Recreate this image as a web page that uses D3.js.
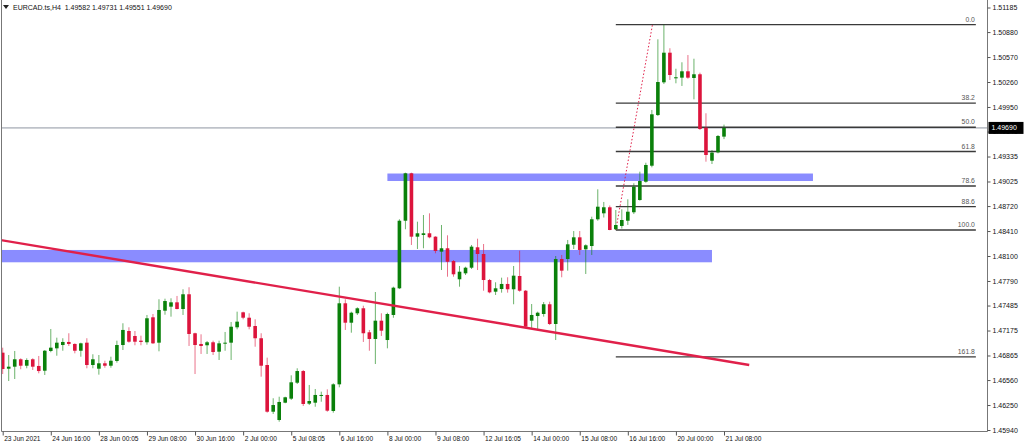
<!DOCTYPE html>
<html><head><meta charset="utf-8">
<script src="https://cdn.jsdelivr.net/npm/d3@7"></script>
<style>
html,body{margin:0;padding:0;background:#fff;}
svg{display:block;}
text{font-family:"Liberation Sans",Arial,sans-serif;}
</style></head><body>
<svg id="chart" width="1024" height="447"></svg>
<script>
const symbolName = "EURCAD.ts,H4";
const lastQuote = [1.49582, 1.49731, 1.49551, 1.49690];
const currentPrice = 1.49690;

const opens = [1.46900,1.46701,1.46726,1.46818,1.46738,1.46818,1.46735,1.46676,1.46921,1.46954,
1.46995,1.47033,1.47008,1.46924,1.47024,1.46747,1.46701,1.46768,1.46738,1.46797,
1.46995,1.47169,1.47107,1.47049,1.47029,1.47339,1.47024,1.47421,1.47471,1.47525,
1.47442,1.47625,1.47141,1.47008,1.46992,1.47029,1.46912,1.47016,1.47024,1.47215,
1.47401,1.47334,1.47231,1.47079,1.46747,1.46167,1.46064,1.46279,1.46329,1.46527,
1.46672,1.46267,1.46279,1.46366,1.46375,1.46176,1.46507,1.47513,1.47272,1.47389,
1.47451,1.47153,1.47070,1.47297,1.47057,1.47368,1.47699,1.48538,1.49127,1.48340,
1.48361,1.48382,1.48340,1.48154,1.48196,1.48038,1.47811,1.47885,1.47955,1.48208,
1.48125,1.47802,1.47657,1.47690,1.47753,1.47687,1.47852,1.47669,1.47297,1.47355,
1.47380,1.47501,1.47256,1.48063,1.48063,1.48240,1.48332,1.48183,1.48224,1.48556,
1.48630,1.48705,1.48432,1.48473,1.48538,1.48643,1.48795,1.49022,1.49221,1.49850,
1.50256,1.50624,1.50306,1.50314,1.50393,1.50310,1.50356,1.49693,1.49283,1.49387,
1.49582];
const highs = [1.46962,1.46871,1.46921,1.46830,1.46830,1.46830,1.46859,1.46933,1.47194,1.47086,
1.47079,1.47141,1.47016,1.47024,1.47079,1.46880,1.46871,1.46800,1.46850,1.47049,
1.47265,1.47215,1.47169,1.47111,1.47368,1.47380,1.47563,1.47570,1.47575,1.47604,
1.47687,1.47712,1.47148,1.47128,1.47045,1.47049,1.47049,1.47157,1.47281,1.47409,
1.47409,1.47389,1.47314,1.47141,1.46838,1.46334,1.46353,1.46353,1.46619,1.46706,
1.46685,1.46499,1.46449,1.46416,1.46445,1.46520,1.47719,1.47563,1.47409,1.47463,
1.47483,1.47182,1.47653,1.47389,1.47396,1.47719,1.48556,1.49134,1.49134,1.48526,
1.48609,1.48630,1.48345,1.48485,1.48357,1.48050,1.47976,1.47967,1.48237,1.48315,
1.48249,1.47815,1.47774,1.47831,1.47836,1.47976,1.48166,1.47678,1.47504,1.47409,
1.47529,1.47533,1.48100,1.48113,1.48299,1.48410,1.48410,1.48245,1.48588,1.48928,
1.48771,1.48727,1.48671,1.48680,1.48804,1.49003,1.49147,1.49258,1.49913,1.50790,
1.50972,1.50679,1.50425,1.50505,1.50595,1.50549,1.50376,1.49872,1.49416,1.49602,
1.49731];
const lows = [1.46635,1.46548,1.46573,1.46694,1.46706,1.46685,1.46644,1.46623,1.46905,1.46862,
1.46924,1.46983,1.46892,1.46850,1.46706,1.46706,1.46627,1.46713,1.46713,1.46776,
1.46933,1.47024,1.46992,1.46992,1.46999,1.47008,1.46917,1.47371,1.47347,1.47438,
1.47368,1.46983,1.46635,1.46884,1.46884,1.46871,1.46809,1.46924,1.46809,1.47190,
1.47314,1.47190,1.46974,1.46602,1.46155,1.46139,1.46043,1.46272,1.46313,1.46511,
1.46238,1.46250,1.46229,1.46291,1.46167,1.46155,1.46470,1.47182,1.47148,1.47368,
1.47033,1.46924,1.46759,1.47107,1.46954,1.47334,1.47690,1.48432,1.48237,1.48187,
1.48196,1.48320,1.48134,1.47926,1.47843,1.47843,1.47719,1.47864,1.47939,1.47926,
1.47669,1.47637,1.47616,1.47645,1.47645,1.47501,1.47657,1.47215,1.47203,1.47182,
1.47347,1.47243,1.47057,1.47836,1.47918,1.48187,1.48113,1.47877,1.48113,1.48538,
1.48578,1.48420,1.48423,1.48441,1.48485,1.48621,1.48787,1.49010,1.49201,1.49838,
1.50235,1.50285,1.50244,1.50211,1.50301,1.50045,1.49664,1.49271,1.49242,1.49375,
1.49551];
const closes = [1.46697,1.46726,1.46818,1.46738,1.46809,1.46726,1.46672,1.46924,1.46962,1.47024,
1.47033,1.47008,1.46924,1.47016,1.46747,1.46818,1.46768,1.46738,1.46800,1.46995,
1.47182,1.47036,1.47036,1.47033,1.47327,1.47016,1.47430,1.47541,1.47525,1.47442,
1.47625,1.47132,1.46995,1.46983,1.47029,1.46908,1.47016,1.47024,1.47222,1.47285,
1.47334,1.47222,1.47079,1.46738,1.46167,1.46250,1.46288,1.46346,1.46532,1.46672,
1.46263,1.46300,1.46375,1.46375,1.46180,1.46507,1.47513,1.47272,1.47396,1.47451,
1.47141,1.47070,1.47297,1.47173,1.47380,1.47707,1.48538,1.49127,1.48340,1.48382,
1.48382,1.48332,1.48162,1.48196,1.48029,1.47873,1.47905,1.47955,1.48216,1.48125,
1.47802,1.47649,1.47699,1.47753,1.47687,1.47856,1.47669,1.47222,1.47368,1.47396,
1.47501,1.47256,1.48063,1.47918,1.48245,1.48332,1.48175,1.48233,1.48556,1.48712,
1.48705,1.48423,1.48485,1.48547,1.48650,1.48960,1.49031,1.49230,1.49859,1.50260,
1.50624,1.50347,1.50319,1.50393,1.50314,1.50356,1.49677,1.49354,1.49383,1.49590,
1.49690];

const yTickLabels = ["1.51185","1.50880","1.50570","1.50260","1.49950","1.49645","1.49335","1.49025",
"1.48720","1.48410","1.48100","1.47790","1.47485","1.47175","1.46865","1.46560","1.46250","1.45940"];
const xTickBars = [0,8,16,24,32,40,48,56,64,72,80,88,96,104,112,120];
const xTickLabels = ["23 Jun 2021","24 Jun 16:00","28 Jun 00:05","29 Jun 08:00","30 Jun 16:00","2 Jul 00:00",
"5 Jul 08:05","6 Jul 16:00","8 Jul 00:00","9 Jul 08:00","12 Jul 16:05","14 Jul 00:00","15 Jul 08:00",
"16 Jul 16:00","20 Jul 00:00","21 Jul 08:00"];

const fibLevels = [0, 38.2, 50, 61.8, 78.6, 88.6, 100, 161.8];
const fibHigh = 1.50972, fibLow = 1.48423;
const fibAnchorBars = [102.0, 108.1];
const fibEndBar = 161.9;

const zoneBars0 = [64, -0.5];
const zoneBars1 = [134.8, 118];
const zoneTops = [1.49124, 1.48175];
const zoneBottoms = [1.49031, 1.48022];

const trendBars = [-0.45, 124.2];
const trendPrices = [1.48299, 1.46747];

// ---- drawing ----
const svg = d3.select("#chart");
const frameL = 1.5, frameR = 987.5, frameB = 431.5;
const x = d3.scaleLinear().domain([0, 120]).range([2.7, 724]);
const y = d3.scaleLinear().domain([1.45940, 1.51185]).range([430, 7.5]);

svg.append("defs").append("clipPath").attr("id","plot")
  .append("rect").attr("x",frameL).attr("y",0).attr("width",frameR-frameL).attr("height",frameB);

const plot = svg.append("g").attr("clip-path","url(#plot)");

// zones
plot.selectAll("rect.zone").data(zoneTops).join("rect").attr("class","zone")
  .attr("x",(d,i)=>x(zoneBars0[i])).attr("width",(d,i)=>x(zoneBars1[i])-x(zoneBars0[i]))
  .attr("y",(d)=>y(d)).attr("height",(d,i)=>y(zoneBottoms[i])-y(d))
  .attr("fill","#8a8cff");

// current price line
plot.append("line").attr("x1",frameL).attr("x2",frameR)
  .attr("y1",y(currentPrice)).attr("y2",y(currentPrice))
  .attr("stroke","#8e96a2").attr("stroke-width",1);

// fib
const fibPrice = l => fibHigh - (fibHigh - fibLow) * l / 100;
plot.selectAll("line.fib").data(fibLevels).join("line").attr("class","fib")
  .attr("x1",x(fibAnchorBars[0])).attr("x2",x(fibEndBar))
  .attr("y1",d=>y(fibPrice(d))).attr("y2",d=>y(fibPrice(d)))
  .attr("stroke","#3a3a3a").attr("stroke-width",1.4);
plot.selectAll("text.fib").data(fibLevels).join("text").attr("class","fib")
  .attr("x",x(fibEndBar)-1).attr("y",d=>y(fibPrice(d))-3)
  .attr("text-anchor","end").attr("font-size","6.8px").attr("fill","#555")
  .text(d=>d.toFixed(1));
plot.append("line")
  .attr("x1",x(fibAnchorBars[0])).attr("y1",y(fibLow))
  .attr("x2",x(fibAnchorBars[1])).attr("y2",y(fibHigh))
  .attr("stroke","#e0204a").attr("stroke-width",1).attr("stroke-dasharray","1.5,2");

// candles
const idx = d3.range(opens.length);
const col = i => closes[i] >= opens[i] ? "#0a800a" : "#dc143c";
plot.selectAll("line.wick").data(idx).join("line").attr("class","wick")
  .attr("x1",i=>x(i)).attr("x2",i=>x(i))
  .attr("y1",i=>y(highs[i])).attr("y2",i=>y(lows[i]))
  .attr("stroke",col).attr("stroke-width",1).attr("stroke-opacity",0.6);
plot.selectAll("rect.body").data(idx).join("rect").attr("class","body")
  .attr("x",i=>x(i)-1.8).attr("width",3.6)
  .attr("y",i=>y(Math.max(opens[i],closes[i])))
  .attr("height",i=>Math.max(1, Math.abs(y(opens[i])-y(closes[i]))))
  .attr("fill",col);

// trend line
plot.append("line")
  .attr("x1",x(trendBars[0])).attr("y1",y(trendPrices[0]))
  .attr("x2",x(trendBars[1])).attr("y2",y(trendPrices[1]))
  .attr("stroke","#e0204a").attr("stroke-width",2.4);

// frame
svg.append("path")
  .attr("d",`M${frameL},0V${frameB}H${frameR}V0`)
  .attr("fill","none").attr("stroke","#777").attr("stroke-width",1);

// y axis
const yAxis = d3.axisRight(y).tickValues(yTickLabels.map(Number))
  .tickFormat((d,i)=>yTickLabels[i]).tickSize(3).tickPadding(2);
const gy = svg.append("g").attr("transform",`translate(${frameR},0)`).call(yAxis);
gy.select(".domain").remove();
gy.selectAll("line").attr("stroke","#555");
gy.selectAll("text").attr("font-size","7px").attr("fill","#111")
  .attr("font-family","'Liberation Sans',Arial,sans-serif");

// x axis
const xAxis = d3.axisBottom(x).tickValues(xTickBars)
  .tickFormat((d,i)=>xTickLabels[i]).tickSize(4);
const gx = svg.append("g").attr("transform",`translate(0,${frameB})`).call(xAxis);
gx.select(".domain").remove();
gx.selectAll("line").attr("stroke","#555");
gx.selectAll("text").attr("font-size","6.6px").attr("fill","#111")
  .attr("text-anchor","start").attr("x",1).attr("y",5).attr("dy","0.71em")
  .attr("font-family","'Liberation Sans',Arial,sans-serif");

// current price box
const py = y(currentPrice);
svg.append("rect").attr("x",frameR+1).attr("y",py-6).attr("width",35).attr("height",12).attr("fill","#000");
svg.append("text").attr("x",frameR+4).attr("y",py).attr("dy","0.35em")
  .attr("font-size","7px").attr("fill","#fff").text(currentPrice.toFixed(5));

// header
svg.append("path").attr("d","M3,5L9,5L6,9Z").attr("fill","#222");
svg.append("text").attr("x",13).attr("y",10).attr("font-size","7px").attr("fill","#111")
  .attr("xml:space","preserve")
  .text(symbolName + "  " + lastQuote.map(v=>v.toFixed(5)).join(" "));
</script>
</body></html>
